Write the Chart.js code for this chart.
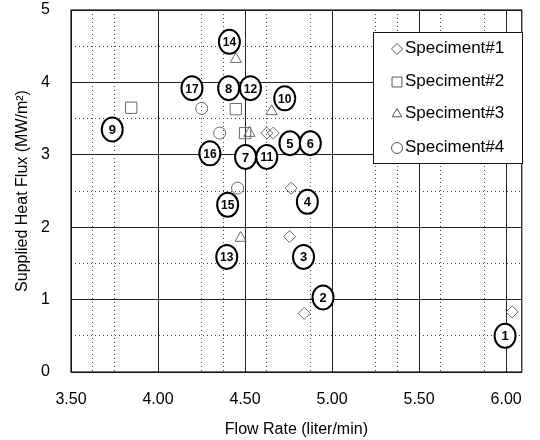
<!DOCTYPE html>
<html>
<head>
<meta charset="utf-8">
<script src="https://cdn.jsdelivr.net/npm/chart.js@4.4.0/dist/chart.umd.min.js"></script>
<style>
  html, body { margin: 0; padding: 0; background: #fff; }
  #wrap { width: 540px; height: 440px; }
</style>
</head>
<body>
<div id="wrap"><canvas id="chart" width="540" height="440"></canvas></div>
<script>
// data
const spec1X = [4.625, 4.662, 4.765, 4.756, 4.84, 6.034];
const spec1Y = [3.30, 3.30, 2.54, 1.87, 0.81, 0.83];
const spec2X = [3.846, 4.447, 4.50];
const spec2Y = [3.65, 3.63, 3.30];
const spec3X = [4.447, 4.653, 4.525, 4.475];
const spec3Y = [4.32, 3.60, 3.30, 1.85];
const spec4X = [4.251, 4.354, 4.457];
const spec4Y = [3.64, 3.30, 2.54];

// numbered test tags
const tagNums = ['1', '2', '3', '4', '5', '6', '7', '8', '9', '10', '11', '12', '13', '14', '15', '16', '17'];
const tagX = [5.994, 4.948, 4.836, 4.858, 4.758, 4.875, 4.503, 4.406, 3.737, 4.728, 4.625, 4.531, 4.395, 4.41, 4.40, 4.298, 4.195];
const tagY = [0.50, 1.03, 1.59, 2.35, 3.16, 3.16, 2.97, 3.92, 3.35, 3.78, 2.97, 3.92, 1.59, 4.56, 2.31, 3.02, 3.92];

const xTicks = [3.5, 4.0, 4.5, 5.0, 5.5, 6.0];
const yTicks = [0, 1, 2, 3, 4, 5];
const minorX = [3.625, 3.75, 4.25, 4.375, 4.625, 4.875, 5.25, 5.375, 5.625, 5.875];
const minorY = [0.5, 1.5, 2.5, 3.5, 4.5];

const seriesNames = ['Speciment#1', 'Speciment#2', 'Speciment#3', 'Speciment#4'];

const FONT = "'Liberation Sans', Arial, sans-serif";
const markColor = '#6a6a6a';

function pts(xs, ys) {
    return xs.map((x, i) => ({ x: x, y: ys[i] }));
}

// frame around the plot
const framePlugin = {
    id: 'frame',
    afterDraw(chart) {
        const a = chart.chartArea;
        const ctx = chart.ctx;
        ctx.save();
        ctx.strokeStyle = '#111';
        ctx.lineWidth = 1.2;
        ctx.strokeRect(a.left, a.top, a.right - a.left, a.bottom - a.top);
        ctx.restore();
    }
};

// ellipses with numbers
const tagPlugin = {
    id: 'tags',
    afterDatasetsDraw(chart) {
        const ctx = chart.ctx;
        const meta = chart.getDatasetMeta(4);
        ctx.save();
        meta.data.forEach((el, i) => {
            ctx.beginPath();
            ctx.ellipse(el.x, el.y, 10.5, 12, 0, 0, Math.PI * 2);
            ctx.fillStyle = '#fff';
            ctx.fill();
            ctx.lineWidth = 2;
            ctx.strokeStyle = '#000';
            ctx.stroke();
            ctx.fillStyle = '#000';
            ctx.font = 'bold ' + (tagNums[i].length > 1 ? 12 : 13) + 'px ' + FONT;
            ctx.textAlign = 'center';
            ctx.textBaseline = 'middle';
            ctx.fillText(tagNums[i], el.x, el.y + 1);
        });
        ctx.restore();
    }
};

// legend box inside the plot
const boxLegend = {
    id: 'boxLegend',
    afterDraw(chart) {
        const ctx = chart.ctx;
        ctx.save();
        ctx.fillStyle = '#fff';
        ctx.fillRect(373, 32, 149, 131);
        ctx.strokeStyle = '#111';
        ctx.lineWidth = 1;
        ctx.strokeRect(373.5, 32.5, 149, 131);
        const rows = [48, 81, 113, 147];
        seriesNames.forEach((name, i) => {
            const ds = chart.data.datasets[i];
            ctx.strokeStyle = '#555';
            ctx.fillStyle = '#fff';
            Chart.helpers.drawPoint(ctx, {
                pointStyle: ds.pointStyle,
                radius: ds.pointStyle === 'rect' ? 7 : 5.5,
                rotation: 0,
                borderWidth: 1
            }, 397, rows[i] + 1);
            ctx.fillStyle = '#000';
            ctx.font = '17px ' + FONT;
            ctx.textAlign = 'left';
            ctx.textBaseline = 'middle';
            ctx.fillText(name, 405, rows[i]);
        });
        ctx.restore();
    }
};

function seriesSet(label, data, style, r) {
    return {
        label: label,
        data: data,
        showLine: false,
        pointStyle: style,
        pointRadius: r,
        pointHoverRadius: r,
        pointBorderWidth: 1,
        pointBorderColor: markColor,
        pointBackgroundColor: 'rgba(255,255,255,0)'
    };
}

const noPad = s => { s.paddingTop = 0; s.paddingBottom = 0; };

const ctx = document.getElementById('chart').getContext('2d');
new Chart(ctx, {
    type: 'scatter',
    data: {
        datasets: [
            seriesSet(seriesNames[0], pts(spec1X, spec1Y), 'rectRot', 6),
            seriesSet(seriesNames[1], pts(spec2X, spec2Y), 'rect', 8),
            seriesSet(seriesNames[2], pts(spec3X, spec3Y), 'triangle', 6.5),
            seriesSet(seriesNames[3], pts(spec4X, spec4Y), 'circle', 6),
            {
                label: 'tags',
                data: pts(tagX, tagY),
                pointRadius: 0,
                pointHoverRadius: 0
            }
        ]
    },
    options: {
        responsive: false,
        animation: false,
        events: [],
        layout: { padding: { left: 0, right: 7, top: 10, bottom: 0 } },
        plugins: {
            legend: { display: false },
            tooltip: { enabled: false }
        },
        scales: {
            x: {
                type: 'linear',
                min: 3.5,
                max: 6.09,
                afterBuildTicks: s => { s.ticks = xTicks.map(v => ({ value: v })); },
                afterFit: s => { s.height = 68; },
                ticks: {
                    padding: 18,
                    color: '#000',
                    font: { family: FONT, size: 16 },
                    callback: v => Number(v).toFixed(2)
                },
                grid: { color: '#222', lineWidth: 1, drawTicks: false },
                border: { display: false },
                title: {
                    display: true,
                    text: 'Flow Rate (liter/min)',
                    color: '#000',
                    font: { family: FONT, size: 16 },
                    padding: { top: 0, bottom: 1 }
                }
            },
            x2: {
                type: 'linear',
                position: 'bottom',
                min: 3.5,
                max: 6.09,
                display: true,
                afterBuildTicks: s => { s.ticks = minorX.map(v => ({ value: v })); },
                afterFit: s => { s.height = 0; },
                ticks: { display: false },
                grid: { color: '#444', lineWidth: 1, drawTicks: false },
                border: { display: false, dash: [1, 3] }
            },
            y: {
                type: 'linear',
                min: 0,
                max: 5,
                afterBuildTicks: s => { s.ticks = yTicks.map(v => ({ value: v })); },
                afterFit: s => { s.width = 71; noPad(s); },
                ticks: {
                    padding: 21,
                    color: '#000',
                    font: { family: FONT, size: 16 }
                },
                grid: { color: '#222', lineWidth: 1, drawTicks: false },
                border: { display: false },
                title: {
                    display: true,
                    text: 'Supplied Heat Flux (MW/m\u00B2)',
                    color: '#000',
                    font: { family: FONT, size: 16 },
                    padding: { top: 13, bottom: 0 }
                }
            },
            y2: {
                type: 'linear',
                position: 'left',
                min: 0,
                max: 5,
                display: true,
                afterBuildTicks: s => { s.ticks = minorY.map(v => ({ value: v })); },
                afterFit: s => { s.width = 0; noPad(s); },
                ticks: { display: false },
                grid: { color: '#444', lineWidth: 1, drawTicks: false },
                border: { display: false, dash: [1, 3] }
            }
        }
    },
    plugins: [framePlugin, tagPlugin, boxLegend]
});
</script>
</body>
</html>
